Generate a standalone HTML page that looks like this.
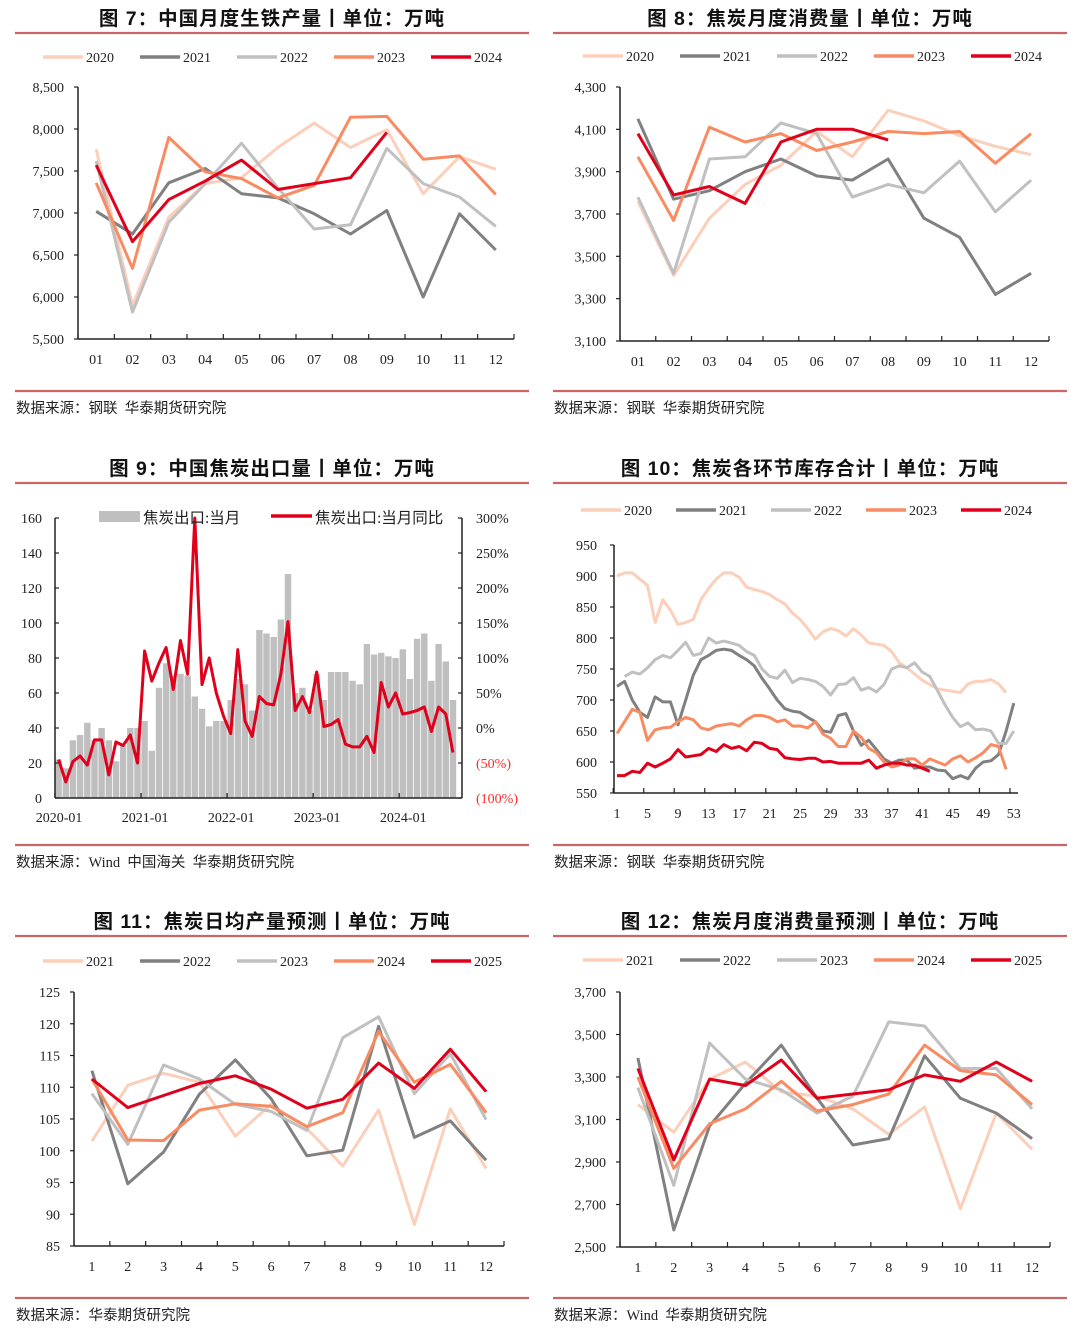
<!DOCTYPE html>
<html><head><meta charset="utf-8"><style>
html,body{margin:0;padding:0;background:#fff;}
svg{display:block;}
.t{font-family:"Liberation Sans","Noto Sans CJK SC",sans-serif;font-weight:bold;font-size:19.5px;letter-spacing:1px;fill:#111;}
.n{font-family:"Liberation Serif","Noto Serif CJK SC",serif;font-size:14px;fill:#222;}
.lg{font-family:"Liberation Serif","Noto Sans CJK SC",sans-serif;font-size:15.5px;fill:#222;}
.s{font-family:"Liberation Serif","Noto Sans CJK SC",sans-serif;font-size:14.5px;fill:#222;white-space:pre;}
</style></head><body>
<svg id="root" width="1080" height="1330" viewBox="0 0 1080 1330" xmlns="http://www.w3.org/2000/svg"></svg>
<script>
// ---- data ----
const monthLabels2 = ["01","02","03","04","05","06","07","08","09","10","11","12"];
const monthLabels1 = ["1","2","3","4","5","6","7","8","9","10","11","12"];
const years5a = ["2020","2021","2022","2023","2024"];
const years5b = ["2021","2022","2023","2024","2025"];
// chart 7 pig iron
const iron2020 = [7760,5900,6950,7350,7420,7780,8070,7780,7990,7230,7670,7520];
const iron2021 = [7020,6750,7360,7530,7230,7180,6990,6750,7030,6000,6990,6560];
const iron2022 = [7620,5820,6890,7350,7830,7300,6810,6860,7770,7350,7190,6840];
const iron2023 = [7360,6340,7900,7490,7410,7180,7330,8140,8150,7640,7680,7220];
const iron2024 = [7570,6660,7160,7380,7630,7280,7350,7420,7960];
const ironTicks = [5500,6000,6500,7000,7500,8000,8500];
// chart 8 coke consumption
const cons2020 = [3760,3410,3680,3840,3930,4090,3970,4190,4140,4070,4020,3980];
const cons2021 = [4150,3770,3810,3900,3960,3880,3860,3960,3680,3590,3320,3420];
const cons2022 = [3780,3420,3960,3970,4130,4080,3780,3840,3800,3950,3710,3860];
const cons2023 = [3970,3670,4110,4040,4080,4000,4040,4090,4080,4090,3940,4080];
const cons2024 = [4080,3790,3830,3750,4040,4100,4100,4050];
const consTicks = [3100,3300,3500,3700,3900,4100,4300];
// chart 9 coke exports
const exportVol = [22,17,33,36,43,33,40,33,21,30,40,40, 44,27,63,77,70,71,70,58,51,41,44,44, 56,68,65,50,96,94,92,102,128,60,63,50, 71,56,72,72,72,67,65,88,82,83,81,80, 85,68,91,94,67,88,78,56];
const exportYoY = [-45,-77,-48,-40,-53,-17,-17,-67,-20,-25,-10,-50, 110,67,93,115,55,125,77,300,62,100,50,17, -8,112,10,-12,45,35,33,77,152,25,45,22, 80,2,5,12,-23,-27,-27,-12,-35,65,30,50, 20,22,25,30,-5,30,20,-35];
const exportXLabels = ["2020-01","2021-01","2022-01","2023-01","2024-01"];
const exportLeftTicks = [0,20,40,60,80,100,120,140,160];
const exportRightTicks = ["(100%)","(50%)","0%","50%","100%","150%","200%","250%","300%"];
// chart 10 inventory weekly
const inv2020 = [900,905,905,895,885,825,862,845,822,825,830,862,880,895,905,905,898,882,878,875,870,862,855,840,830,815,798,810,815,812,803,815,805,792,790,788,778,760,752,742,732,725,718,716,714,712,726,730,730,733,726,712];
const inv2021 = [722,730,700,680,672,705,697,697,660,700,740,765,772,780,782,780,772,765,755,735,718,700,686,682,680,672,665,650,648,675,678,650,627,635,620,605,598,603,603,590,592,592,587,586,573,578,573,590,600,602,612,650,695];
const inv2022 = [null,738,745,742,752,765,772,768,780,793,772,775,800,792,795,792,788,778,772,750,738,735,748,728,735,733,730,722,708,725,726,736,716,720,713,725,750,755,752,760,745,738,715,692,672,657,663,652,653,650,630,630,650];
const inv2023 = [646,665,685,680,635,652,655,656,665,672,668,655,652,658,660,662,658,668,675,675,672,665,668,658,658,655,665,645,638,625,625,650,640,622,615,600,592,595,605,605,595,605,600,595,605,610,600,607,615,628,625,588];
const inv2024 = [578,578,585,583,598,592,598,605,620,608,610,612,622,617,628,622,625,618,632,630,622,620,607,605,604,606,606,600,601,598,598,598,598,603,590,595,598,598,595,595,590,585];
const invXLabels = ["1","5","9","13","17","21","25","29","33","37","41","45","49","53"];
const invTicks = [550,600,650,700,750,800,850,900,950];
// chart 11 daily output forecast
const daily2021 = [101.5,110.3,112.2,110.8,102.3,107.3,103.5,97.6,106.4,88.4,106.6,97.2];
const daily2022 = [112.6,94.8,99.8,108.9,114.3,108.2,99.2,100.1,119.6,102.1,104.7,98.5];
const daily2023 = [109,101,113.5,111.3,107.3,106.2,103.2,117.8,121.1,109,115.3,104.9];
const daily2024 = [111.3,101.7,101.6,106.4,107.4,107,103.8,106,118.8,110.8,113.6,106];
const daily2025 = [111.3,106.8,108.7,110.6,111.8,109.7,106.7,108.1,113.8,109.8,116,109.3];
const dailyTicks = [85,90,95,100,105,110,115,120,125];
// chart 12 consumption forecast
const fc2021 = [3170,3040,3290,3370,3230,3210,3150,3030,3160,2680,3130,2960];
const fc2022 = [3390,2580,3070,3270,3450,3200,2980,3010,3400,3200,3130,3010];
const fc2023 = [3250,2790,3460,3290,3240,3130,3210,3560,3540,3340,3340,3150];
const fc2024 = [3300,2870,3080,3150,3280,3140,3170,3220,3450,3330,3310,3170];
const fc2025 = [3340,2910,3290,3260,3380,3200,3220,3240,3310,3280,3370,3280];
const fcTicks = [2500,2700,2900,3100,3300,3500,3700];

const COLORS = ["#fccfba","#808080","#c0c0c0","#f98b62","#e0001b"];
const NS = "http://www.w3.org/2000/svg";
const root = document.getElementById("root");
function mk(tag, attrs, parent, name, inter){
  const e = document.createElementNS(NS, tag);
  for (const k in attrs) e.setAttribute(k, attrs[k]);
  
  
  (parent || root).appendChild(e);
  return e;
}
function txt(x,y,s,cls,anchor,parent,name,fill){
  const t = mk("text",{x:x,y:y,class:cls,"text-anchor":anchor||"start"},parent,name,false);
  if (fill) t.style.fill = fill;
  t.textContent = s;
  return t;
}
const fmt = v => v.toLocaleString("en-US");

function panel(px, titleY, title, botY, source, name){
  const g = mk("g",{},root,name,false);
  txt(px+257, titleY, title, "t", "middle", g, "chart-title");
  mk("line",{x1:px,x2:px+514,y1:titleY+8,y2:titleY+8,stroke:"#c96565","stroke-width":2.2},g,"title-rule",false);
  mk("line",{x1:px,x2:px+514,y1:botY,y2:botY,stroke:"#c96565","stroke-width":2.2},g,"bottom-rule",false);
  txt(px+1, botY+22, source, "s", "start", g, "source-note");
  return g;
}
function legend(g, x0, y, labels, spacing){
  labels.forEach((l,i)=>{
    const lg = mk("g",{},g,"legend-entry-"+l,true);
    const x = x0 + i*spacing;
    mk("line",{x1:x,x2:x+40,y1:y,y2:y,stroke:COLORS[i],"stroke-width":3.5},lg,"legend-swatch",false);
    txt(x+43, y+5, l, "n", "start", lg, "legend-label");
  });
}
function lineChart(g, o){
  const ax = mk("g",{},g,"axes",false);
  const ys = v => o.yBot - (v - o.min)/(o.max - o.min)*(o.yBot - o.yTop);
  const n = o.labels.length, bw = (o.x1 - o.x0)/n;
  const xs = i => o.x0 + bw*(i+0.5);
  mk("line",{x1:o.x0,x2:o.x0,y1:o.yTop,y2:o.yBot,stroke:"#222","stroke-width":1.5},ax,"y-axis",false);
  mk("line",{x1:o.x0,x2:o.x1,y1:o.yBot,y2:o.yBot,stroke:"#222","stroke-width":1.5},ax,"x-axis",false);
  o.ticks.forEach(t=>{
    mk("line",{x1:o.x0-4,x2:o.x0,y1:ys(t),y2:ys(t),stroke:"#222","stroke-width":1.2},ax,"y-tick",false);
    txt(o.x0-14, ys(t)+5, o.tfmt(t), "n", "end", ax, "y-tick-label");
  });
  for (let i=0;i<=n;i++) mk("line",{x1:o.x0+bw*i,x2:o.x0+bw*i,y1:o.yBot,y2:o.yBot-5,stroke:"#222","stroke-width":1.2},ax,"x-tick",false);
  o.labels.forEach((l,i)=> txt(xs(i), o.yBot+25, l, "n", "middle", ax, "x-tick-label"));
  o.series.forEach((s,k)=>{
    const pts = s.map((v,i)=> xs(i).toFixed(1)+","+ys(v).toFixed(1)).join(" ");
    mk("polyline",{points:pts,fill:"none",stroke:COLORS[k],"stroke-width":3,"stroke-linejoin":"round"},g,"series-"+o.names[k],false);
  });
}

// chart 7
let g7 = panel(15, 25, "图 7：中国月度生铁产量丨单位：万吨", 391, "数据来源：钢联  华泰期货研究院", "pig-iron-chart");
legend(g7, 43, 57, years5a, 97);
lineChart(g7,{x0:78,x1:514,yTop:87,yBot:339,min:5500,max:8500,ticks:ironTicks,tfmt:fmt,labels:monthLabels2,series:[iron2020,iron2021,iron2022,iron2023,iron2024],names:years5a});
// chart 8
let g8 = panel(553, 25, "图 8：焦炭月度消费量丨单位：万吨", 391, "数据来源：钢联  华泰期货研究院", "coke-consumption-chart");
legend(g8, 583, 56, years5a, 97);
lineChart(g8,{x0:620,x1:1049,yTop:87,yBot:341,min:3100,max:4300,ticks:consTicks,tfmt:fmt,labels:monthLabels2,series:[cons2020,cons2021,cons2022,cons2023,cons2024],names:years5a});

// chart 9
(function(){
  const g = panel(15, 475, "图 9：中国焦炭出口量丨单位：万吨", 845, "数据来源：Wind  中国海关  华泰期货研究院", "coke-export-chart");
  const x0=55, x1=462, yTop=518, yBot=798, n=exportVol.length, bw=7.17;
  const yl = v => yBot - v/160*(yBot-yTop);
  const yr = p => yBot - (p+100)/400*(yBot-yTop);
  const xc = i => x0 + bw*(i+0.5);
  exportVol.forEach((v,i)=>{
    mk("rect",{x:(x0+bw*i+0.4).toFixed(1),y:yl(v).toFixed(1),width:(bw-0.8).toFixed(1),height:(yBot-yl(v)).toFixed(1),fill:"#bfbfbf"},g,"bar-export-volume",false);
  });
  const ax = mk("g",{},g,"axes",false);
  mk("line",{x1:x0,x2:x0,y1:yTop,y2:yBot,stroke:"#222","stroke-width":1.5},ax,"left-y-axis",false);
  mk("line",{x1:x1,x2:x1,y1:yTop,y2:yBot,stroke:"#222","stroke-width":1.5},ax,"right-y-axis",false);
  mk("line",{x1:x0,x2:x1,y1:yBot,y2:yBot,stroke:"#222","stroke-width":1.5},ax,"x-axis",false);
  exportLeftTicks.forEach(t=>{
    mk("line",{x1:x0,x2:x0+4,y1:yl(t),y2:yl(t),stroke:"#222","stroke-width":1.2},ax,"left-tick",false);
    txt(42, yl(t)+5, String(t), "n", "end", ax, "left-tick-label");
  });
  exportRightTicks.forEach((t,i)=>{
    const y = yBot - i*(yBot-yTop)/8;
    mk("line",{x1:x1-4,x2:x1,y1:y,y2:y,stroke:"#222","stroke-width":1.2},ax,"right-tick",false);
    txt(476, y+5, t, "n", "start", ax, "right-tick-label", t.startsWith("(") ? "#ff2a2a" : null);
  });
  for (let i=0;i<=n;i+=12) mk("line",{x1:x0+bw*i,x2:x0+bw*i,y1:yBot,y2:yBot-5,stroke:"#222","stroke-width":1.2},ax,"x-tick",false);
  exportXLabels.forEach((l,k)=> txt(xc(k*12)+0.5, yBot+24, l, "n", "middle", ax, "x-tick-label"));
  const pts = exportYoY.map((p,i)=> xc(i).toFixed(1)+","+yr(p).toFixed(1)).join(" ");
  mk("polyline",{points:pts,fill:"none",stroke:"#e0001b","stroke-width":3,"stroke-linejoin":"round"},g,"series-export-yoy",false);
  const l1 = mk("g",{},g,"legend-entry-volume",true);
  mk("rect",{x:99,y:511,width:41,height:11,fill:"#bfbfbf"},l1,"legend-swatch",false);
  txt(143, 523, "焦炭出口:当月", "lg", "start", l1, "legend-label");
  const l2 = mk("g",{},g,"legend-entry-yoy",true);
  mk("line",{x1:271,x2:312,y1:516,y2:516,stroke:"#e0001b","stroke-width":3.5},l2,"legend-swatch",false);
  txt(315, 523, "焦炭出口:当月同比", "lg", "start", l2, "legend-label");
})();

// chart 10
(function(){
  const g = panel(553, 475, "图 10：焦炭各环节库存合计丨单位：万吨", 845, "数据来源：钢联  华泰期货研究院", "coke-inventory-chart");
  legend(g, 581, 510, years5a, 95);
  const x0=614, x1=1018, yTop=545, yBot=793, min=550, max=950;
  const ys = v => yBot - (v-min)/(max-min)*(yBot-yTop);
  const step = 7.63, xs = w => 617 + (w-1)*step;
  const ax = mk("g",{},g,"axes",false);
  mk("line",{x1:x0,x2:x0,y1:yTop,y2:yBot,stroke:"#222","stroke-width":1.5},ax,"y-axis",false);
  mk("line",{x1:x0,x2:x1,y1:yBot,y2:yBot,stroke:"#222","stroke-width":1.5},ax,"x-axis",false);
  invTicks.forEach(t=>{
    mk("line",{x1:x0-4,x2:x0,y1:ys(t),y2:ys(t),stroke:"#222","stroke-width":1.2},ax,"y-tick",false);
    txt(597, ys(t)+5, String(t), "n", "end", ax, "y-tick-label");
  });
  invXLabels.forEach(l=>{
    const w = +l;
    mk("line",{x1:xs(w)-3.8,x2:xs(w)-3.8,y1:yBot,y2:yBot-5,stroke:"#222","stroke-width":1.2},ax,"x-tick",false);
    txt(xs(w), yBot+25, l, "n", "middle", ax, "x-tick-label");
  });
  [inv2020,inv2021,inv2022,inv2023,inv2024].forEach((s,k)=>{
    const pts = [];
    s.forEach((v,i)=>{ if (v!==null) pts.push(xs(i+1).toFixed(1)+","+ys(v).toFixed(1)); });
    mk("polyline",{points:pts.join(" "),fill:"none",stroke:COLORS[k],"stroke-width":3,"stroke-linejoin":"round"},g,"series-"+years5a[k],false);
  });
})();

// chart 11
let g11 = panel(15, 928, "图 11：焦炭日均产量预测丨单位：万吨", 1298, "数据来源：华泰期货研究院", "daily-output-forecast-chart");
legend(g11, 43, 961, years5b, 97);
lineChart(g11,{x0:74,x1:504,yTop:992,yBot:1246,min:85,max:125,ticks:dailyTicks,tfmt:String,labels:monthLabels1,series:[daily2021,daily2022,daily2023,daily2024,daily2025],names:years5b});
// chart 12
let g12 = panel(553, 928, "图 12：焦炭月度消费量预测丨单位：万吨", 1298, "数据来源：Wind  华泰期货研究院", "consumption-forecast-chart");
legend(g12, 583, 960, years5b, 97);
lineChart(g12,{x0:620,x1:1050,yTop:992,yBot:1247,min:2500,max:3700,ticks:fcTicks,tfmt:fmt,labels:monthLabels1,series:[fc2021,fc2022,fc2023,fc2024,fc2025],names:years5b});
</script>
</body></html>
